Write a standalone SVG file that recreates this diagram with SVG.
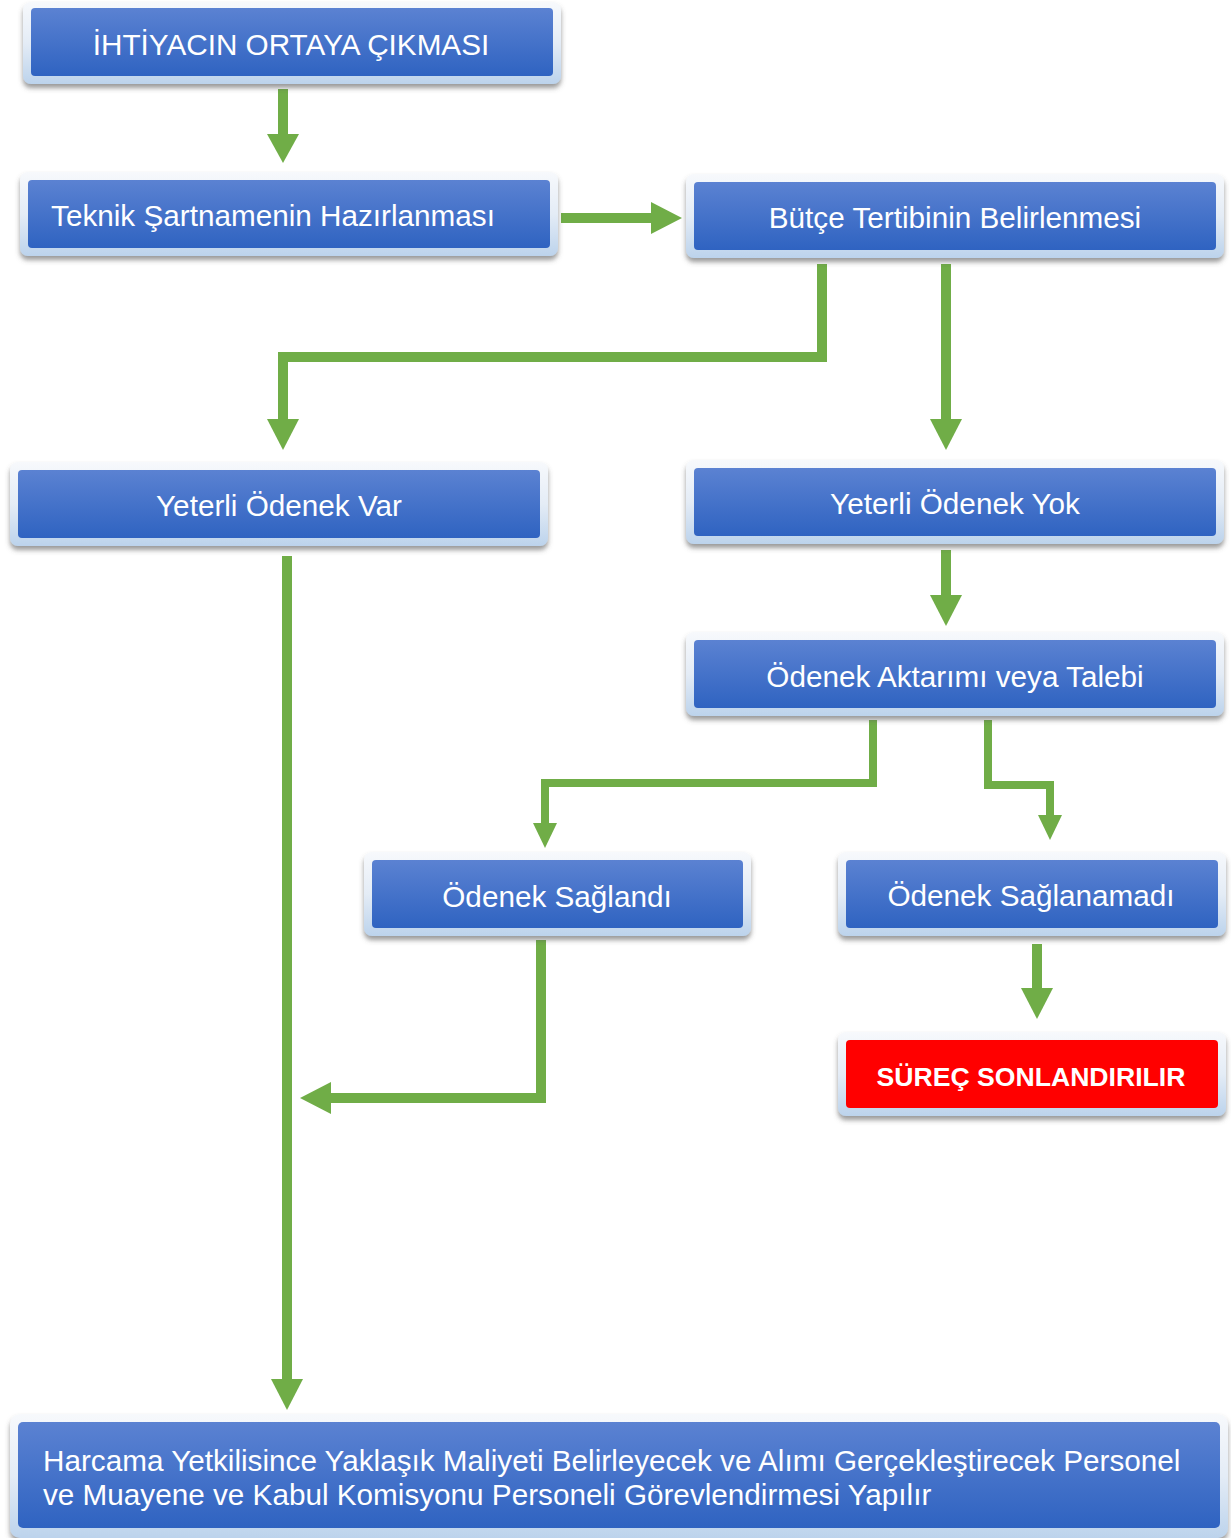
<svg xmlns="http://www.w3.org/2000/svg" width="1231" height="1538" viewBox="0 0 1231 1538">
<defs>
<linearGradient id="frame" x1="0" y1="0" x2="0" y2="1">
<stop offset="0" stop-color="#f7f9fc"/>
<stop offset="0.5" stop-color="#e4ecf6"/>
<stop offset="1" stop-color="#bcd3ec"/>
</linearGradient>
<linearGradient id="blue" x1="0" y1="0" x2="0" y2="1">
<stop offset="0" stop-color="#5b82d2"/>
<stop offset="1" stop-color="#2f63c1"/>
</linearGradient>
<filter id="sh" x="-5%" y="-20%" width="110%" height="150%">
<feDropShadow dx="0" dy="4" stdDeviation="2.5" flood-color="#555" flood-opacity="0.6"/>
</filter>
</defs>
<style>
.fr{fill:url(#frame);filter:url(#sh)}
.in{fill:url(#blue)}
.red{fill:#ff0000}
.t{font-family:"Liberation Sans",Arial,sans-serif;font-size:29.7px;fill:#fff;text-anchor:middle}
.tb{font-weight:bold;font-size:26.6px}
.ln{fill:none;stroke:#70ad47;stroke-width:10}
.ln2{fill:none;stroke:#70ad47;stroke-width:8}
.hd{fill:#70ad47}
</style>
<rect width="1231" height="1538" fill="#fff"/>
<g id="connectors">
<line class="ln" x1="283" y1="89" x2="283" y2="137"/>
<polygon class="hd" points="267,134 299,134 283,163"/>
<line class="ln" x1="561" y1="218" x2="654" y2="218"/>
<polygon class="hd" points="651,202 651,234 682,218"/>
<polyline class="ln" points="822,264 822,357 283,357 283,422"/>
<polygon class="hd" points="267,419 299,419 283,450"/>
<line class="ln" x1="946" y1="264" x2="946" y2="422"/>
<polygon class="hd" points="930,419 962,419 946,450"/>
<line class="ln" x1="287" y1="556" x2="287" y2="1382"/>
<polygon class="hd" points="271,1379 303,1379 287,1410"/>
<line class="ln" x1="946" y1="550" x2="946" y2="598"/>
<polygon class="hd" points="930,595 962,595 946,626"/>
<polyline class="ln2" points="873,720 873,783 545,783 545,826"/>
<polygon class="hd" points="533,823 557,823 545,848"/>
<polyline class="ln2" points="988,720 988,785 1050,785 1050,818"/>
<polygon class="hd" points="1038,815 1062,815 1050,840"/>
<polyline class="ln" points="541,940 541,1098 328,1098"/>
<polygon class="hd" points="331,1082 331,1114 300,1098"/>
<line class="ln" x1="1037" y1="944" x2="1037" y2="991"/>
<polygon class="hd" points="1021,988 1053,988 1037,1019"/>
</g>
<g id="n1">
<rect class="fr" x="23" y="2" width="538" height="82" rx="8"/>
<rect class="in" x="31" y="8" width="522" height="68" rx="4"/>
<text class="t" x="291" y="55">İHTİYACIN ORTAYA ÇIKMASI</text>
</g>
<g id="n2">
<rect class="fr" x="20" y="172" width="538" height="84" rx="8"/>
<rect class="in" x="28" y="180" width="522" height="68" rx="4"/>
<text class="t" x="273" y="226">Teknik Şartnamenin Hazırlanması</text>
</g>
<g id="n3">
<rect class="fr" x="686" y="174" width="538" height="84" rx="8"/>
<rect class="in" x="694" y="182" width="522" height="68" rx="4"/>
<text class="t" x="955" y="228">Bütçe Tertibinin Belirlenmesi</text>
</g>
<g id="n4">
<rect class="fr" x="10" y="462" width="538" height="84" rx="8"/>
<rect class="in" x="18" y="470" width="522" height="68" rx="4"/>
<text class="t" x="279" y="516">Yeterli Ödenek Var</text>
</g>
<g id="n5">
<rect class="fr" x="686" y="460" width="538" height="84" rx="8"/>
<rect class="in" x="694" y="468" width="522" height="68" rx="4"/>
<text class="t" x="955" y="514">Yeterli Ödenek Yok</text>
</g>
<g id="n6">
<rect class="fr" x="686" y="632" width="538" height="84" rx="8"/>
<rect class="in" x="694" y="640" width="522" height="68" rx="4"/>
<text class="t" x="955" y="687">Ödenek Aktarımı veya Talebi</text>
</g>
<g id="n7">
<rect class="fr" x="364" y="852" width="387" height="84" rx="8"/>
<rect class="in" x="372" y="860" width="371" height="68" rx="4"/>
<text class="t" x="557" y="907">Ödenek Sağlandı</text>
</g>
<g id="n8">
<rect class="fr" x="838" y="852" width="388" height="84" rx="8"/>
<rect class="in" x="846" y="860" width="372" height="68" rx="4"/>
<text class="t" x="1031" y="906">Ödenek Sağlanamadı</text>
</g>
<g id="n9">
<rect class="fr" x="838" y="1032" width="388" height="84" rx="8"/>
<rect class="red" x="846" y="1040" width="372" height="68" rx="4"/>
<text class="t tb" x="1031" y="1086">SÜREÇ SONLANDIRILIR</text>
</g>
<g id="n10">
<rect class="fr" x="10" y="1414" width="1218" height="124" rx="10"/>
<rect class="in" x="18" y="1422" width="1202" height="106" rx="5"/>
<text class="t" x="43" y="1471" style="text-anchor:start">Harcama Yetkilisince Yaklaşık Maliyeti Belirleyecek ve Alımı Gerçekleştirecek Personel</text>
<text class="t" x="43" y="1505" style="text-anchor:start">ve Muayene ve Kabul Komisyonu Personeli Görevlendirmesi Yapılır</text>
</g>
</svg>
